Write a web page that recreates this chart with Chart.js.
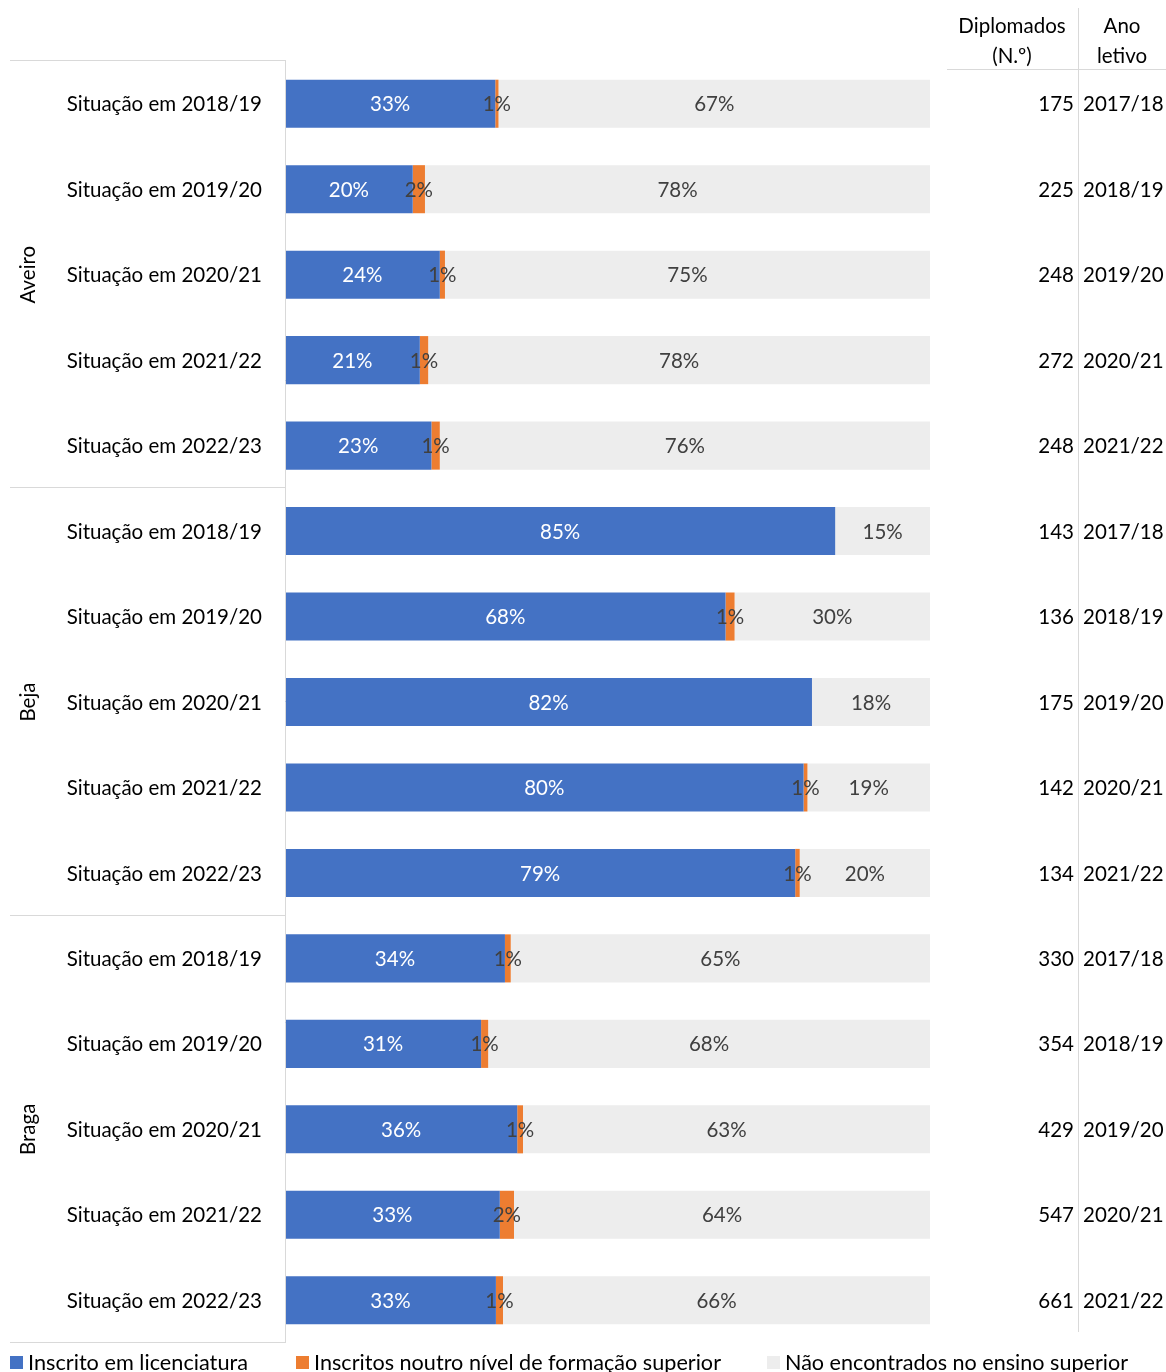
<!DOCTYPE html>
<html>
<head>
<meta charset="utf-8">
<script src="https://cdn.jsdelivr.net/npm/chart.js@4"></script>
<style>
  html, body { margin: 0; padding: 0; background: #fff; }
  #wrap { width: 1166px; height: 1372px; position: relative; }
</style>
</head>
<body>
<div id="wrap"><canvas id="chart" width="1166" height="1372"></canvas></div>
<script>
const groups = ['Aveiro', 'Beja', 'Braga']
const situacoes = ['Situação em 2018/19', 'Situação em 2019/20', 'Situação em 2020/21', 'Situação em 2021/22', 'Situação em 2022/23']
const labels = [] // one row per group x situacao
groups.forEach(g => situacoes.forEach(s => labels.push(s)))

// % values
const licenciatura = [32.6, 19.8, 24.0, 20.9, 22.7, 85.3, 68.3, 81.7, 80.4, 79.1, 34.1, 30.4, 36.0, 33.3, 32.7]
const outroNivel   = [0.5, 1.9, 0.8, 1.3, 1.3, 0, 1.4, 0, 0.6, 0.7, 0.9, 1.1, 0.9, 2.2, 1.1]
const naoEncontr   = [66.9, 78.3, 75.2, 77.8, 76.0, 14.7, 30.3, 18.3, 19.0, 20.2, 65.0, 68.5, 63.1, 64.5, 66.2]

// printed labels
const licLabels  = ['33%', '20%', '24%', '21%', '23%', '85%', '68%', '82%', '80%', '79%', '34%', '31%', '36%', '33%', '33%']
const outLabels  = ['1%', '2%', '1%', '1%', '1%', '', '1%', '', '1%', '1%', '1%', '1%', '1%', '2%', '1%']
const naoLabels  = ['67%', '78%', '75%', '78%', '76%', '15%', '30%', '18%', '19%', '20%', '65%', '68%', '63%', '64%', '66%']

// right-hand table
const diplomados = [175, 225, 248, 272, 248, 143, 136, 175, 142, 134, 330, 354, 429, 547, 661]
const anoLetivo = ['2017/18', '2018/19', '2019/20', '2020/21', '2021/22', '2017/18', '2018/19', '2019/20', '2020/21', '2021/22', '2017/18', '2018/19', '2019/20', '2020/21', '2021/22']

const legendNames = ['Inscrito em licenciatura', 'Inscritos noutro nível de formação superior', 'Não encontrados no ensino superior']
const colors = ['#4472C4', '#ED7D31', '#EDEDED']
const FONT = 'Lato, "Open Sans", sans-serif'
const lineColor = '#D9D9D9'

const extras = {
  id: 'extras',
  afterDatasetsDraw(chart) {
    const ctx = chart.ctx
    const area = chart.chartArea
    const y = chart.scales.y
    const texts = [licLabels, outLabels, naoLabels]
    ctx.save()
    ctx.textBaseline = 'middle'
    ctx.textAlign = 'center'
    ctx.font = '20.5px ' + FONT
    // data labels
    chart.data.datasets.forEach((ds, di) => {
      const meta = chart.getDatasetMeta(di)
      meta.data.forEach((bar, i) => {
        const t = texts[di][i]
        if (!t) return
        ctx.fillStyle = di == 0 ? '#FFFFFF' : '#404040'
        ctx.fillText(t, (bar.x + bar.base) / 2, bar.y + 1)
      })
    })

    // category labels
    ctx.fillStyle = '#000'
    ctx.textAlign = 'right'
    labels.forEach((l, i) => {
      ctx.fillText(l, 262, y.getPixelForValue(i) + 1)
    })

    // group labels + separators
    const step = (area.bottom - area.top) / labels.length
    ctx.strokeStyle = lineColor
    ctx.lineWidth = 1
    ctx.beginPath()
    for (let g = 0; g <= groups.length; g++) {
      const yy = Math.round(area.top - 1 + g * step * situacoes.length) + 0.5
      ctx.moveTo(10, yy)
      ctx.lineTo(area.left, yy)
    }
    ctx.moveTo(area.left + 0.5, area.top - 1)
    ctx.lineTo(area.left + 0.5, area.bottom)
    ctx.stroke()
    ctx.textAlign = 'center'
    groups.forEach((g, gi) => {
      const yc = area.top + (gi + 0.5) * step * situacoes.length
      ctx.save()
      ctx.translate(28, yc)
      ctx.rotate(-Math.PI / 2)
      ctx.fillText(g, 0, 0)
      ctx.restore()
    })

    // right table
    ctx.beginPath()
    ctx.moveTo(1078.5, 8)
    ctx.lineTo(1078.5, 1332)
    ctx.moveTo(947, 69.5)
    ctx.lineTo(1166, 69.5)
    ctx.stroke()
    ctx.fillText('Diplomados', 1012, 26)
    ctx.fillText('(N.º)', 1012, 56)
    ctx.fillText('Ano', 1122, 26)
    ctx.fillText('letivo', 1122, 56)
    diplomados.forEach((d, i) => {
      const yy = y.getPixelForValue(i) + 1
      ctx.textAlign = 'right'
      ctx.fillText(String(d), 1074, yy)
      ctx.textAlign = 'left'
      ctx.fillText(anoLetivo[i], 1083, yy)
    })

    // legend (cut at the bottom edge like the original)
    const lx = [10, 296, 767]
    const lw = [220, 407, 343]
    ctx.font = '22px ' + FONT
    legendNames.forEach((n, i) => {
      ctx.fillStyle = colors[i]
      ctx.fillRect(lx[i], 1356, 13, 13)
      ctx.fillStyle = '#000'
      ctx.textAlign = 'left'
      ctx.fillText(n, lx[i] + 18, 1363, lw[i])
    })
    ctx.restore()
  }
}

new Chart(document.getElementById('chart'), {
  type: 'bar',
  data: {
    labels: labels,
    datasets: [
      { label: legendNames[0], data: licenciatura, backgroundColor: colors[0] },
      { label: legendNames[1], data: outroNivel, backgroundColor: colors[1] },
      { label: legendNames[2], data: naoEncontr, backgroundColor: colors[2] }
    ]
  },
  options: {
    indexAxis: 'y',
    responsive: false,
    animation: false,
    layout: { padding: { left: 285, right: 236, top: 61, bottom: 29 } },
    datasets: { bar: { barPercentage: 0.5625, categoryPercentage: 1 } },
    scales: {
      x: { stacked: true, min: 0, max: 100, display: false },
      y: { stacked: true, display: false }
    },
    plugins: { legend: { display: false }, tooltip: { enabled: false } }
  },
  plugins: [extras]
})
</script>
</body>
</html>
